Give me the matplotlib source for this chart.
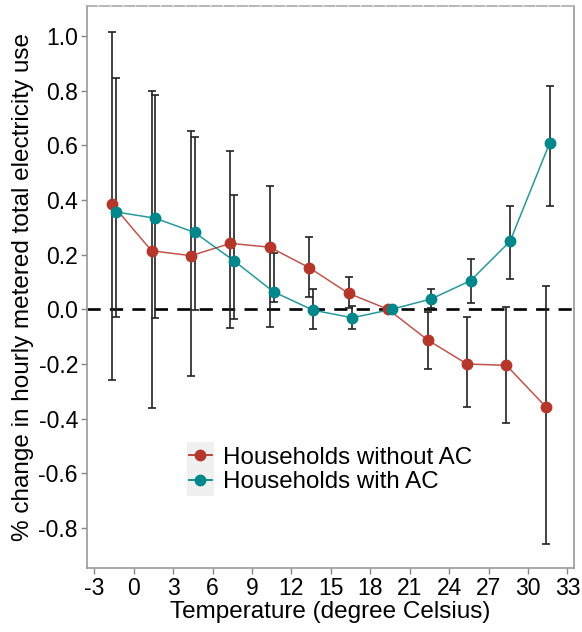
import matplotlib
matplotlib.use("Agg")
import matplotlib.pyplot as plt
import numpy as np
from matplotlib.patches import Rectangle

plt.rcParams['font.family'] = ['Liberation Sans', 'DejaVu Sans']

temp_bins = [-1.5, 1.5, 4.5, 7.5, 10.5, 13.5, 16.5, 19.5, 22.5, 25.5, 28.5, 31.5]

no_ac = [0.384, 0.214, 0.196, 0.241, 0.227, 0.152, 0.058, 0.0, -0.112, -0.200, -0.205, -0.357]
no_ac_lo = [-0.260, -0.362, -0.244, -0.070, -0.063, 0.046, 0.004, 0.0, -0.218, -0.358, -0.417, -0.857]
no_ac_hi = [1.013, 0.800, 0.653, 0.577, 0.452, 0.264, 0.117, 0.0, -0.009, -0.029, 0.007, 0.085]

ac = [0.356, 0.333, 0.281, 0.177, 0.064, -0.003, -0.031, 0.0, 0.038, 0.105, 0.249, 0.607]
ac_lo = [-0.030, -0.031, -0.002, -0.035, 0.028, -0.073, -0.073, 0.0, 0.005, 0.024, 0.110, 0.379]
ac_hi = [0.845, 0.785, 0.629, 0.418, 0.205, 0.074, 0.012, 0.0, 0.074, 0.185, 0.379, 0.815]

x_ticks = [-3, 0, 3, 6, 9, 12, 15, 18, 21, 24, 27, 30, 33]
y_ticks = [-0.8, -0.6, -0.4, -0.2, 0.0, 0.2, 0.4, 0.6, 0.8, 1.0]

red = '#B5372B'
teal = '#00878C'
dodge = 0.14

fig = plt.figure(figsize=(5.82, 6.32), dpi=100)
ax = fig.add_axes([87/582, 1-568/632, (574-87)/582, (568-6)/632])

x = np.array(temp_bins)
series = [
    ('Households without AC', no_ac, no_ac_lo, no_ac_hi, red, -dodge),
    ('Households with AC', ac, ac_lo, ac_hi, teal, dodge),
]

ax.axhline(0, color='black', lw=1.9, ls=(0, (5, 3.5)), zorder=1)

handles = []
for label, y, lo, hi, col, off in series:
    y = np.array(y); lo = np.array(lo); hi = np.array(hi)
    xx = x + off
    mask = (hi - lo) > 0
    ax.errorbar(xx[mask], y[mask], yerr=[y[mask]-lo[mask], hi[mask]-y[mask]],
                fmt='none', ecolor='#222222', elinewidth=1.2, capsize=3.2, capthick=1.2, zorder=2)
for label, y, lo, hi, col, off in series:
    xx = x + off
    ax.plot(xx, y, color=col, lw=1.1, alpha=0.85, zorder=3)
    ax.plot(xx, y, ls='none', marker='o', ms=7.5, color=col, mec=col, zorder=4)
    h, = ax.plot([], [], color=col, lw=1.3, marker='o', ms=7.5, label=label)
    handles.append(h)

ax.set_xlim(-3.55, 33.5)
ax.set_ylim(-0.946, 1.109)
ax.set_xticks(x_ticks)
ax.set_yticks(y_ticks)
ax.set_xticklabels([str(t) for t in x_ticks])
ax.set_yticklabels([f'{t:.1f}' for t in y_ticks])
ax.tick_params(axis='both', direction='out', length=4, width=1, color='#888888',
               labelcolor='black', pad=2.5, labelsize=16.5)

for side in ['left', 'right', 'bottom']:
    ax.spines[side].set_color('#999999')
    ax.spines[side].set_linewidth(1.2)
ax.spines['top'].set_color('#aaaaaa')
ax.spines['top'].set_linewidth(1.2)
ax.spines['top'].set_linestyle((0, (6, 1.5)))

ax.set_xlabel('Temperature (degree Celsius)', fontsize=17.5, labelpad=1)
ax.set_ylabel('% change in hourly metered total electricity use', fontsize=17.5, labelpad=3)

# legend key background
fig.patches.append(Rectangle((187/582, 1-496/632), 27/582, 54/632,
                             transform=fig.transFigure, facecolor='#F0F0F0',
                             edgecolor='none', zorder=0))
leg = fig.legend(handles=handles, loc='center left', bbox_to_anchor=(189/582, 1-470/632),
                 frameon=False, fontsize=17.4, handlelength=0.95, handletextpad=0.45,
                 labelspacing=0.12, borderpad=0, borderaxespad=0)

fig.savefig('out.png', dpi=100)
